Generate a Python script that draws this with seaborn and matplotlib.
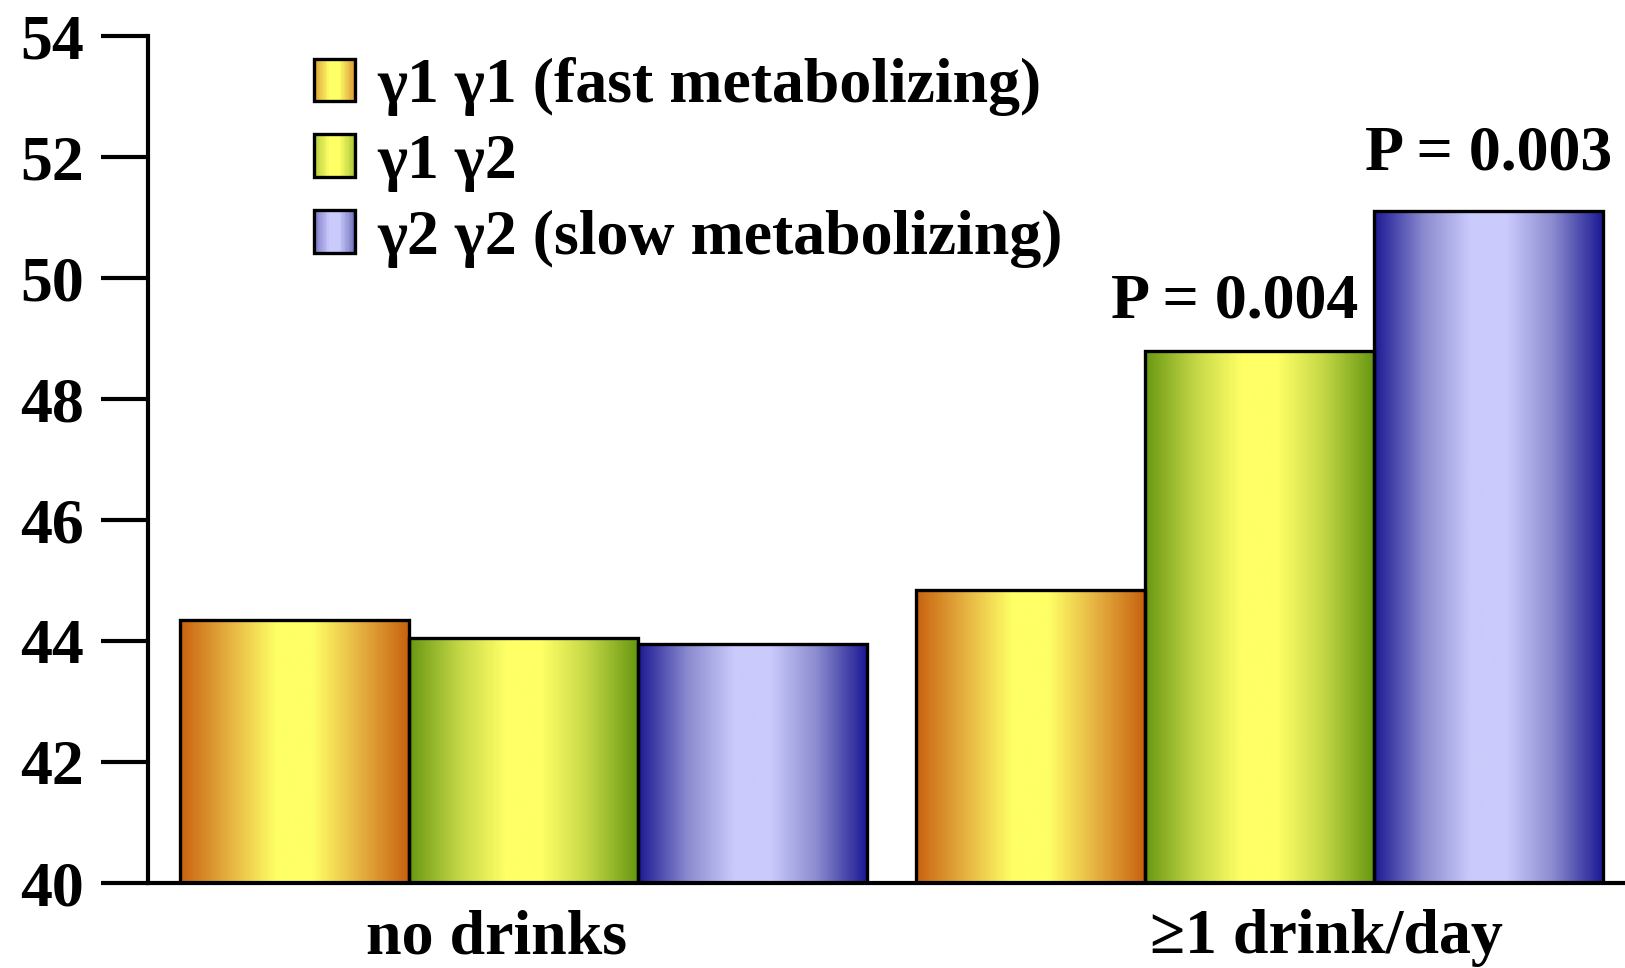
import numpy as np
import pandas as pd
import matplotlib
matplotlib.use('Agg')
import matplotlib.pyplot as plt
import seaborn as sns
from matplotlib.colors import LinearSegmentedColormap
from matplotlib.patches import Patch, Rectangle
from matplotlib.legend_handler import HandlerBase

# data
intake = ['no drinks', '\u22651 drink/day']
genotypes = ['\u03b31 \u03b31 (fast metabolizing)', '\u03b31 \u03b32', '\u03b32 \u03b32 (slow metabolizing)']
no_drinks = [44.35, 44.05, 43.95]
one_plus = [44.85, 48.8, 51.1]
y_ticks = [40, 42, 44, 46, 48, 50, 52, 54]
p_values = ['P = 0.004', 'P = 0.003']   # for the two tall bars in the drinking group

# gradient colours (edge -> centre -> edge)
grad_colors = [
    ['#C8620F', '#E6B443', '#FFFF66', '#FFFF66', '#E6B443', '#C8620F'],
    ['#689812', '#C4D746', '#FFFF66', '#FFFF66', '#C4D746', '#689812'],
    ['#1C1A94', '#8C8CD0', '#CACAFC', '#CACAFC', '#8C8CD0', '#1C1A94'],
]
stops = [0.0, 0.22, 0.42, 0.58, 0.78, 1.0]
cmaps = [LinearSegmentedColormap.from_list('g%d' % i, list(zip(stops, c)))
         for i, c in enumerate(grad_colors)]

df = pd.DataFrame({
    'intake': np.repeat(intake, len(genotypes)),
    'genotype': genotypes * len(intake),
    'value': no_drinks + one_plus,
})

sns.set_theme(style='white')
plt.rcParams['font.family'] = ['Liberation Serif', 'DejaVu Serif']
plt.rcParams['font.weight'] = 'bold'
plt.rcParams['text.color'] = 'black'

fig = plt.figure(figsize=(16.25, 9.68), dpi=100)
ax = fig.add_axes([0.0911, 0.0878, 0.9089, 0.875])

sns.barplot(data=df, x='intake', y='value', hue='genotype', hue_order=genotypes,
            palette=['#FFFF66', '#FFFF66', '#CACAFC'], width=0.933, gap=0,
            edgecolor='black', linewidth=2.4, legend=False, ax=ax, zorder=2)

# gradient fill inside every bar (image spans exactly the bar, clipped by the axes)
grad = np.linspace(0, 1, 256).reshape(1, -1)
for cont, cmap in zip(ax.containers, cmaps):
    for bar in cont:
        bar.set_facecolor('none')
        bar.set_zorder(3)
        x0 = bar.get_x()
        ax.imshow(grad, cmap=cmap, aspect='auto', zorder=2,
                  extent=(x0, x0 + bar.get_width(), bar.get_y(), bar.get_y() + bar.get_height()))

# p-value labels above the drinking group bars
offsets = [(-18, 24), (0, 30)]
for k, (txt, off) in enumerate(zip(p_values, offsets)):
    bar = ax.containers[k + 1][1]
    ax.annotate(txt, xy=(bar.get_x() + bar.get_width() / 2, bar.get_height()),
                xytext=off, textcoords='offset points', ha='center', va='baseline',
                fontsize=46, fontweight='bold', color='black')

ax.set_xlim(-0.51, 1.496)
ax.set_ylim(40, 54)
ax.set_yticks(y_ticks)
ax.set_xticks([0 - 0.037, 1 + 0.091], intake)
ax.set_xlabel('')
ax.set_ylabel('')

for s in ['top', 'right']:
    ax.spines[s].set_visible(False)
for s in ['left', 'bottom']:
    ax.spines[s].set_linewidth(3)
    ax.spines[s].set_color('black')
    ax.spines[s].set_zorder(4)
ax.tick_params(axis='y', length=34, width=3, pad=12, labelsize=46, direction='out', left=True, colors='black')
ax.tick_params(axis='x', length=0, pad=19, labelsize=46, colors='black')


class GradientHandler(HandlerBase):
    def __init__(self, cmap):
        super().__init__()
        self.cmap = cmap

    def create_artists(self, legend, orig_handle, xdescent, ydescent, width, height, fontsize, trans):
        n = 30
        arts = []
        for i in range(n):
            arts.append(Rectangle((-xdescent + width * i / n, -ydescent), width / n * 1.1, height,
                                  facecolor=self.cmap(0.15 + 0.7 * (i + 0.5) / n), edgecolor='none',
                                  transform=trans))
        arts.append(Rectangle((-xdescent, -ydescent), width, height, facecolor='none',
                              edgecolor='black', linewidth=2.4, transform=trans))
        return arts


handles = [Patch(label=g) for g in genotypes]
leg = ax.legend(handles=handles, handler_map={h: GradientHandler(c) for h, c in zip(handles, cmaps)},
                loc='upper left', bbox_to_anchor=(0.193, 0.941), bbox_transform=fig.transFigure,
                frameon=False, fontsize=46, handlelength=0.64, handleheight=0.64,
                handletextpad=0.36, labelspacing=0.28, borderpad=0, borderaxespad=0)
for t in leg.get_texts():
    t.set_color('black')

fig.savefig('out.png', dpi=100)
